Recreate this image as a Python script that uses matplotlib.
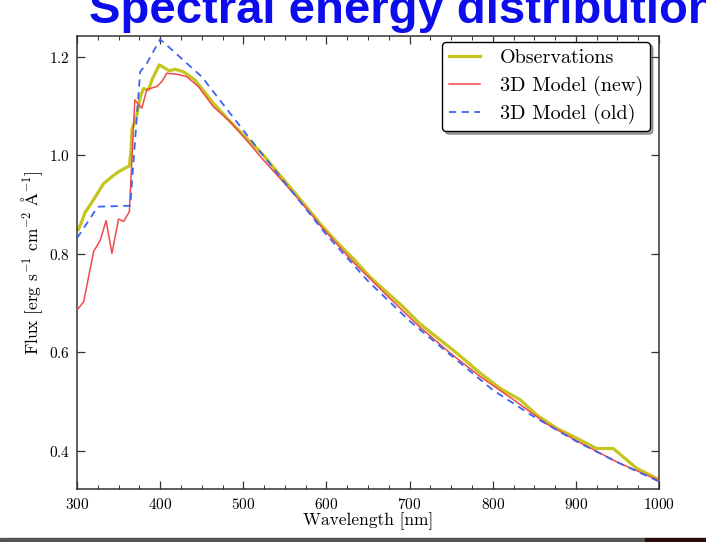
import matplotlib
matplotlib.use("Agg")
import matplotlib.pyplot as plt
from matplotlib.patches import Rectangle
from matplotlib.ticker import MultipleLocator

plt.rcParams["font.family"] = ["cmr10", "DejaVu Serif"]
plt.rcParams["mathtext.fontset"] = "cm"
plt.rcParams["axes.unicode_minus"] = False
plt.rcParams["axes.formatter.use_mathtext"] = True

obs_wl = [302, 310, 316, 322, 332, 342, 350, 363, 365, 366, 372, 376, 380, 386, 390,
          399, 411, 418, 428, 442, 464, 484, 504, 524, 544, 564, 584, 592, 612, 632,
          652, 672, 692, 712, 732, 758, 785, 809, 833, 853, 877, 901, 925, 945, 973, 1000]
obs_flux = [0.850, 0.885, 0.900, 0.916, 0.943, 0.957, 0.967, 0.979, 1.010, 1.052, 1.082,
            1.119, 1.136, 1.133, 1.153, 1.184, 1.172, 1.175, 1.170, 1.153, 1.106, 1.069,
            1.035, 1.001, 0.960, 0.920, 0.879, 0.862, 0.825, 0.791, 0.754, 0.723, 0.693,
            0.659, 0.632, 0.597, 0.558, 0.527, 0.504, 0.473, 0.446, 0.426, 0.405, 0.405,
            0.365, 0.342]

new_wl = [300, 308, 314, 320, 328, 335, 342, 350, 356, 363, 369.5, 378, 384, 396, 402,
          408, 420, 432, 446, 464, 484, 504, 524, 544, 564, 584, 592, 632, 672, 712, 748,
          785, 825, 865, 905, 949, 1000]
new_flux = [0.686, 0.703, 0.754, 0.805, 0.828, 0.868, 0.801, 0.871, 0.866, 0.886, 1.113,
            1.096, 1.134, 1.140, 1.150, 1.167, 1.165, 1.160, 1.140, 1.099, 1.069, 1.031,
            0.991, 0.954, 0.916, 0.876, 0.859, 0.784, 0.717, 0.652, 0.600, 0.551, 0.504,
            0.455, 0.417, 0.378, 0.340]

old_wl = [300, 325, 364, 376, 384, 400, 450, 500, 550, 600, 650, 700, 750, 800, 850,
          900, 950, 1000]
old_flux = [0.832, 0.896, 0.898, 1.170, 1.187, 1.236, 1.160, 1.051, 0.945, 0.839, 0.745,
            0.664, 0.594, 0.524, 0.469, 0.420, 0.377, 0.338]

labels = ["Observations", "3D Model (new)", "3D Model (old)"]

W, H = 706, 542
fig = plt.figure(figsize=(W / 100, H / 100), dpi=100)
fig.patch.set_facecolor("white")

ax = fig.add_axes([77 / W, 1 - 489 / H, (659 - 77) / W, (489 - 36) / H])
ax.plot(obs_wl, obs_flux, color="#c6c41e", lw=2.3, label=labels[0], zorder=2)
ax.plot(new_wl, new_flux, color="#f04a4a", lw=1.1, label=labels[1], zorder=3)
ax.plot(old_wl, old_flux, color="#3c64f0", lw=1.3, ls=(0, (4, 3)), label=labels[2], zorder=4)

ax.set_xlim(300, 1000)
ax.set_ylim(0.3228, 1.2426)
ax.xaxis.set_major_locator(MultipleLocator(100))
ax.xaxis.set_minor_locator(MultipleLocator(25))
ax.yaxis.set_major_locator(MultipleLocator(0.2))
ax.tick_params(which="both", direction="in", top=True, right=True, labelsize=11, color="#333333")
ax.tick_params(which="major", length=6, width=0.9)
ax.tick_params(which="minor", length=3, width=0.7)
ax.tick_params(axis="x", pad=6)
ax.tick_params(axis="y", pad=5)
for s in ax.spines.values():
    s.set_linewidth(1.1)
    s.set_color("#333333")

ax.set_xlabel("Wavelength [nm]", fontsize=12.5, labelpad=0)
ax.set_ylabel(r"Flux [erg s$^{-1}$ cm$^{-2}$ $\mathrm{Å}^{-1}$]", fontsize=12.5, labelpad=3)

leg = ax.legend(loc="upper right", bbox_to_anchor=((650 - 77) / 582, (489 - 42) / 453),
                borderaxespad=0, fancybox=True, shadow=True, framealpha=1,
                fontsize=14.5, handlelength=1.5, handletextpad=1.0, labelspacing=0.42,
                borderpad=0.35)
leg.get_frame().set_edgecolor("black")
leg.get_frame().set_linewidth(1.0)

# slide title, cut at the top edge
fig.text(89 / W, 1 - 23 / H, "Spectral energy distribution", color="#0c0cec",
         fontsize=34, fontweight="bold", family=["Liberation Sans", "DejaVu Sans"],
         ha="left", va="baseline")

# slide shadow at the bottom
fig.patches.append(Rectangle((0, 0), 645 / W, 4 / H, transform=fig.transFigure,
                             color="#555555", zorder=0))
fig.patches.append(Rectangle((645 / W, 0), 61 / W, 4 / H, transform=fig.transFigure,
                             color="#2a0a0a", zorder=0))

fig.savefig("out.png", dpi=100)
